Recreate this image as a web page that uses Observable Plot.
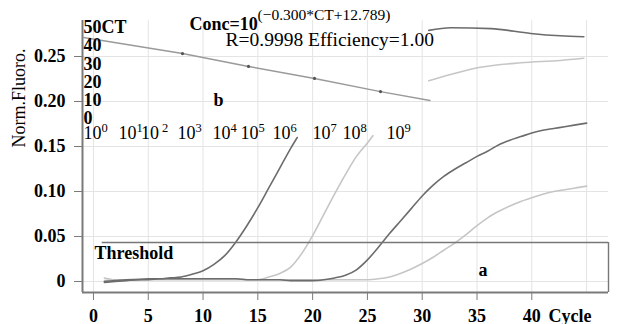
<!DOCTYPE html>
<html>
<head>
<meta charset="utf-8">
<script src="https://cdn.jsdelivr.net/npm/d3@7"></script>
<script src="https://cdn.jsdelivr.net/npm/@observablehq/plot@0.6"></script>
<style>
  body { margin: 0; background: #fff; }
  #chart { position: relative; width: 630px; height: 324px; }
  #chart svg { position: absolute; left: 0; top: 0; }
</style>
</head>
<body>
<div id="chart"></div>
<script>
// ---------- main amplification plot data ----------
const xTicks = [0, 5, 10, 15, 20, 25, 30, 35, 40];
const xGrid = [0, 5, 10, 15, 20, 25, 30, 35, 40, 45];
const yTicks = [0, 0.05, 0.10, 0.15, 0.20, 0.25];
const yTickLabels = ["0", "0.05", "0.10", "0.15", "0.20", "0.25"];
const xDomain = [-1, 47];
const yDomain = [-0.0122, 0.29];
const thresholdValue = 0.0433;
const thresholdStartCycle = 0.8;

const curveACycle = [1,2,3,4,5,6,7,8,9,10,11,12,13,14,15,16,17,18,18.6];
const curveAValue = [0.000,0.001,0.002,0.002,0.003,0.003,0.004,0.005,0.008,0.012,0.019,0.029,0.044,0.062,0.082,0.104,0.126,0.148,0.160];

const curveBCycle = [1,2,3,4,5,6,7,8,9,10,11,12,13,14,15,16,17,18,19,20,21,22,23,24,25,25.5];
const curveBValue = [0.004,0.002,0.002,0.003,0.003,0.003,0.003,0.003,0.003,0.003,0.003,0.003,0.003,0.002,0.002,0.005,0.009,0.016,0.031,0.051,0.074,0.097,0.119,0.139,0.154,0.162];

const curveCCycle = d3.range(1, 46);
const curveCValue = [-0.001,0.000,0.001,0.002,0.002,0.003,0.003,0.003,0.003,0.003,0.003,0.003,0.003,0.002,0.002,0.002,0.002,0.001,0.001,0.001,0.002,0.004,0.007,0.013,0.024,0.038,0.053,0.067,0.081,0.095,0.107,0.117,0.125,0.132,0.139,0.145,0.152,0.157,0.161,0.165,0.168,0.170,0.172,0.174,0.176];

const curveDCycle = d3.range(1, 46);
const curveDValue = [0.001,0.002,0.002,0.002,0.002,0.002,0.002,0.002,0.002,0.002,0.002,0.002,0.002,0.002,0.002,0.002,0.002,0.002,0.002,0.002,0.002,0.002,0.002,0.002,0.002,0.003,0.005,0.009,0.014,0.020,0.027,0.035,0.043,0.052,0.062,0.071,0.078,0.084,0.089,0.093,0.097,0.100,0.102,0.104,0.106];

const plateauDarkCycle = [30.6, 32.6, 36.3, 39.9, 42.6, 44.75];
const plateauDarkValue = [0.279, 0.282, 0.281, 0.2756, 0.273, 0.272];
const plateauLightCycle = [30.6, 32.6, 35.3, 39.0, 42.6, 44.75];
const plateauLightValue = [0.223, 0.230, 0.238, 0.243, 0.2456, 0.248];

// ---------- inset standard curve data ----------
const insetXDomain = [-1.03, 9.515];      // log10 concentration
const insetYDomain = [0, 50];             // CT
const insetCtTicks = [0, 10, 20, 30, 40, 50];
const insetLogTickAt = [-1.0, 0.06, 0.74, 1.85, 2.91, 3.76, 4.73, 5.94, 6.85, 8.18];
const insetLogTickExponents = ["0", "1", " 2", "3", "4", "5", "6", "7", "8", "9"];
const stdLineLog = [-1, 2, 4, 6, 8, 9.5];
const stdLineCt = [44.5, 35.7, 28.6, 22.0, 14.8, 9.9];
const stdPointLog = [2, 4, 6, 8];
const stdPointCt = [35.7, 28.6, 22.0, 14.8];

// ---------- build tables ----------
const toRows = (cs, vs, series) => cs.map((c, i) => ({cycle: c, value: vs[i], series}));
const darkRows = [
  ...toRows(curveACycle, curveAValue, "A"),
  ...toRows(curveCCycle, curveCValue, "C"),
  ...toRows(plateauDarkCycle, plateauDarkValue, "E")
];
const lightRows = [
  ...toRows(curveBCycle, curveBValue, "B"),
  ...toRows(curveDCycle, curveDValue, "D"),
  ...toRows(plateauLightCycle, plateauLightValue, "F")
];
const stdLine = stdLineLog.map((l, i) => ({log: l, ct: stdLineCt[i]}));
const stdPoints = stdPointLog.map((l, i) => ({log: l, ct: stdPointCt[i]}));
const insetXLabels = insetLogTickAt.map((l, i) => ({log: l, exp: insetLogTickExponents[i]}));

const font = "'Liberation Serif', 'Times New Roman', serif";
const axisGray = "#7a7a7a";

const main = Plot.plot({
  width: 630, height: 324,
  marginLeft: 82, marginRight: 22, marginTop: 20, marginBottom: 32,
  style: {fontFamily: font, fontSize: "18px", background: "transparent", overflow: "visible"},
  x: {domain: xDomain},
  y: {domain: yDomain},
  marks: [
    Plot.gridX(xGrid, {stroke: "#e4e4e4", strokeOpacity: 1}),
    Plot.gridY(yTicks, {stroke: "#e4e4e4", strokeOpacity: 1}),
    Plot.line(lightRows, {x: "cycle", y: "value", z: "series", stroke: "#c6c6c6", strokeWidth: 1.6, curve: "monotone-x"}),
    Plot.line(darkRows, {x: "cycle", y: "value", z: "series", stroke: "#6c6c6c", strokeWidth: 1.6, curve: "monotone-x"}),
    Plot.ruleY([thresholdValue], {x1: thresholdStartCycle, x2: xDomain[1], stroke: "#777", strokeWidth: 1.4}),
    Plot.ruleX([xDomain[1]], {y1: thresholdValue, y2: yDomain[0], stroke: "#777", strokeWidth: 1.4}),
    Plot.ruleX([xDomain[0]], {stroke: axisGray, strokeWidth: 2}),
    Plot.ruleY([yDomain[0]], {stroke: axisGray, strokeWidth: 2}),
    Plot.axisX(xTicks, {tickSize: 8, tickPadding: 9, stroke: axisGray, fontWeight: "bold", fontSize: 18, label: null}),
    Plot.axisY(yTicks, {tickSize: 8, tickPadding: 9, stroke: axisGray, fontWeight: "bold", fontSize: 18, label: null,
      tickFormat: (d) => yTickLabels[yTicks.indexOf(d)]}),
    Plot.text(["Threshold"], {frameAnchor: "bottom-left", lineAnchor: "middle", dx: 12, dy: -39, textAnchor: "start", fontWeight: "bold", fontSize: 18}),
    Plot.text(["a"], {frameAnchor: "bottom-left", lineAnchor: "middle", dx: 396, dy: -22, fontWeight: "bold", fontSize: 18}),
    Plot.text(["Cycle"], {frameAnchor: "bottom-right", lineAnchor: "middle", dx: -17, dy: 24, fontWeight: "bold", fontSize: 18}),
    Plot.text(["Norm.Fluoro."], {frameAnchor: "left", lineAnchor: "middle", dx: -63, dy: -9, rotate: -90, fontSize: 18})
  ]
});

const inset = Plot.plot({
  width: 630, height: 324,
  marginLeft: 82, marginRight: 200, marginTop: 27, marginBottom: 206,
  style: {fontFamily: font, fontSize: "18px", background: "transparent", overflow: "visible"},
  x: {domain: insetXDomain, axis: null},
  y: {domain: insetYDomain, axis: null},
  marks: [
    Plot.line(stdLine, {x: "log", y: "ct", stroke: "#9a9a9a", strokeWidth: 1.4}),
    Plot.dot(stdPoints, {x: "log", y: "ct", r: 1.6, fill: "#555", stroke: "none"}),
    Plot.text(insetCtTicks, {y: (d) => d, frameAnchor: "left", lineAnchor: "middle", dx: 1, textAnchor: "start",
      text: (d) => d === 50 ? "50CT" : String(d), fontWeight: "bold", fontSize: 18}),
    Plot.text(insetXLabels, {x: "log", text: () => "10", frameAnchor: "bottom", lineAnchor: "middle", dy: 15, textAnchor: "start", fontSize: 18}),
    Plot.text(insetXLabels, {x: "log", text: "exp", frameAnchor: "bottom", lineAnchor: "middle", dx: 18, dy: 9, textAnchor: "start", fontSize: 12.5}),
    Plot.text(["Conc=10"], {frameAnchor: "top-left", lineAnchor: "middle", dx: 107, dy: -3, textAnchor: "start", fontWeight: "bold", fontSize: 18}),
    Plot.text(["(\u22120.300*CT+12.789)"], {frameAnchor: "top-left", lineAnchor: "middle", dx: 175, dy: -12, textAnchor: "start", fontSize: 15.5}),
    Plot.text(["R=0.9998 Efficiency=1.00"], {frameAnchor: "top-left", lineAnchor: "middle", dx: 143, dy: 12, textAnchor: "start", fontSize: 19.5}),
    Plot.text(["b"], {frameAnchor: "top-left", lineAnchor: "middle", dx: 131, dy: 73, fontWeight: "bold", fontSize: 18})
  ]
});

const chart = document.getElementById("chart");
chart.appendChild(main);
chart.appendChild(inset);
</script>
</body>
</html>
